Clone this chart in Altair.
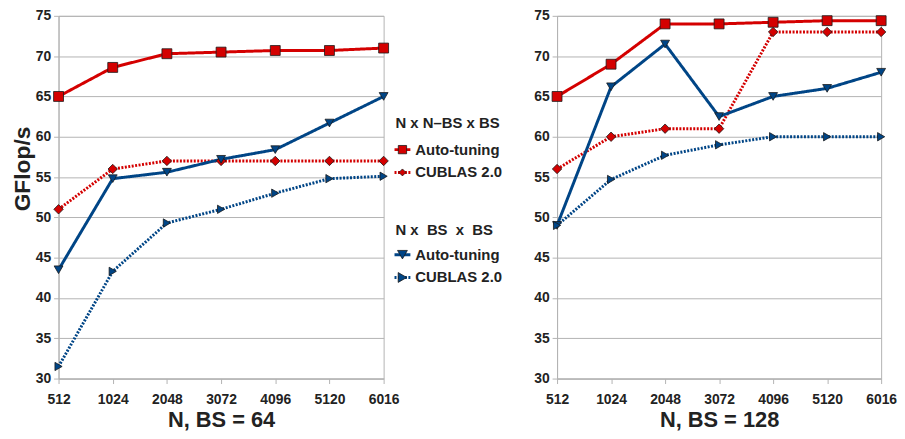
import altair as alt
import pandas as pd

N_LABELS = ["512", "1024", "2048", "3072", "4096", "5120", "6016"]

# Left panel (BS = 64)
L_NN_AUTO = [65.0, 68.6, 70.3, 70.5, 70.7, 70.7, 71.0]
L_NN_CUBLAS = [51.0, 56.0, 57.0, 57.0, 57.0, 57.0, 57.0]
L_NB_AUTO = [43.5, 54.8, 55.6, 57.2, 58.4, 61.7, 65.0]
L_NB_CUBLAS = [31.5, 43.3, 49.3, 51.0, 53.0, 54.8, 55.1]

# Right panel (BS = 128)
R_NN_AUTO = [65.0, 69.0, 74.0, 74.0, 74.2, 74.4, 74.4]
R_NN_CUBLAS = [56.0, 60.0, 61.0, 61.0, 73.0, 73.0, 73.0]
R_NB_AUTO = [49.0, 66.2, 71.5, 62.5, 65.0, 66.0, 68.0]
R_NB_CUBLAS = [49.0, 54.7, 57.7, 59.0, 60.0, 60.0, 60.0]

SERIES = ["NN Auto-tuning", "NN CUBLAS 2.0", "NB Auto-tuning", "NB CUBLAS 2.0"]
COLORS = ["#d40000", "#d40000", "#004586", "#004586"]
DASHES = [[1, 0], [2, 1.5], [1, 0], [2, 1.5]]

BOWTIE = "M-1,-1L1,1L1,-1L-1,1Z"
HOURGLASS = "M-1,-1L1,-1L-1,1L1,1Z"
L_SHAPES = ["square", "diamond", "triangle-down", "triangle-right"]
L_SIZES = [100, 70, 140, 140]
R_SHAPES = [BOWTIE, "triangle-left", "square", HOURGLASS]
R_SIZES = [120, 140, 110, 120]

LEG_TITLES = ["N x N\u2013BS x BS", "N x\u00a0\u00a0BS\u00a0\u00a0x\u00a0\u00a0BS"]
LEG_LABELS = ["Auto-tuning", "CUBLAS 2.0", "Auto-tuning", "CUBLAS 2.0"]

FONT = "Liberation Sans"
GRID = "#b3b3b3"
TEXT = "#222222"
H = 366


def panel(vals, shapes, sizes, xtitle, ytitle):
    rows = []
    for name, series in zip(SERIES, vals):
        for n, v in zip(N_LABELS, series):
            rows.append({"N": n, "v": v, "s": name})
    df = pd.DataFrame(rows)
    yaxis = alt.Axis(
        values=list(range(30, 80, 5)), grid=True, tickSize=5, labelPadding=3,
        title=ytitle, titleFontSize=23, titleX=-24, titleY=154,
    ) if ytitle else alt.Axis(
        values=list(range(30, 80, 5)), grid=True, tickSize=5, labelPadding=3, title=None
    )
    x = alt.X("N:O", sort=N_LABELS, scale=alt.Scale(padding=0),
              axis=alt.Axis(title=xtitle, labelAngle=0, grid=False, tickSize=5,
                            labelPadding=9, titleFontSize=22, titlePadding=3))
    y = alt.Y("v:Q", scale=alt.Scale(domain=[30, 75], nice=False, zero=False), axis=yaxis)
    color = alt.Color("s:N", scale=alt.Scale(domain=SERIES, range=COLORS), legend=None)
    base = alt.Chart(df)
    lines = base.mark_line(strokeWidth=3).encode(
        x=x, y=y, color=color,
        strokeDash=alt.StrokeDash("s:N", scale=alt.Scale(domain=SERIES, range=DASHES), legend=None),
    )
    points = base.mark_point(filled=True, stroke="#1a1a1a", strokeWidth=0.8, opacity=1).encode(
        x=x, y=y, color=color,
        shape=alt.Shape("s:N", scale=alt.Scale(domain=SERIES, range=shapes), legend=None),
        size=alt.Size("s:O", scale=alt.Scale(domain=SERIES, range=sizes), legend=None),
    )
    return alt.layer(lines, points)


left = panel([L_NN_AUTO, L_NN_CUBLAS, L_NB_AUTO, L_NB_CUBLAS], L_SHAPES, L_SIZES,
             "N, BS = 64", "GFlop/s").properties(width=328, height=H)
right = panel([R_NN_AUTO, R_NN_CUBLAS, R_NB_AUTO, R_NB_CUBLAS], R_SHAPES, R_SIZES,
              "N, BS = 128", None).properties(width=327, height=H)

# Legend panel
title_y = [108, 216]
item_y = [135, 158, 241, 264]
layers = []
for t, ty in zip(LEG_TITLES, title_y):
    layers.append(
        alt.Chart(pd.DataFrame({"label": [t]})).mark_text(
            align="left", baseline="middle", font=FONT, fontSize=15, fontWeight="bold", color=TEXT
        ).encode(x=alt.value(12), y=alt.value(ty), text="label:N")
    )
for i, (lab, iy) in enumerate(zip(LEG_LABELS, item_y)):
    d = pd.DataFrame({"label": [lab]})
    layers.append(
        alt.Chart(d).mark_rule(color=COLORS[i], strokeWidth=3, strokeDash=DASHES[i]).encode(
            x=alt.value(11), x2=alt.value(27), y=alt.value(iy))
    )
    layers.append(
        alt.Chart(d).mark_point(filled=True, fill=COLORS[i], stroke="#1a1a1a", strokeWidth=0.8,
                                opacity=1, shape=L_SHAPES[i], size=L_SIZES[i] * 0.7).encode(
            x=alt.value(19), y=alt.value(iy))
    )
    layers.append(
        alt.Chart(d).mark_text(align="left", baseline="middle", font=FONT, fontSize=15,
                               fontWeight="bold", color=TEXT).encode(
            x=alt.value(32), y=alt.value(iy), text="label:N")
    )
legend = alt.layer(*layers).properties(width=175, height=H,
                                       view=alt.ViewBackground(stroke="transparent"))

chart = alt.hconcat(left, legend, right, spacing=0, bounds="flush").properties(
    padding={"left": 3, "top": -2, "right": -1, "bottom": -2},
).configure_view(stroke=GRID).configure_axis(
    labelFont=FONT, labelFontWeight="bold", labelFontSize=14, labelColor=TEXT,
    titleFont=FONT, titleFontWeight="bold", titleColor=TEXT,
    gridColor=GRID, domainColor=GRID, tickColor=GRID,
)

chart.save("out.html", embed_options={"renderer": "svg", "actions": False})
